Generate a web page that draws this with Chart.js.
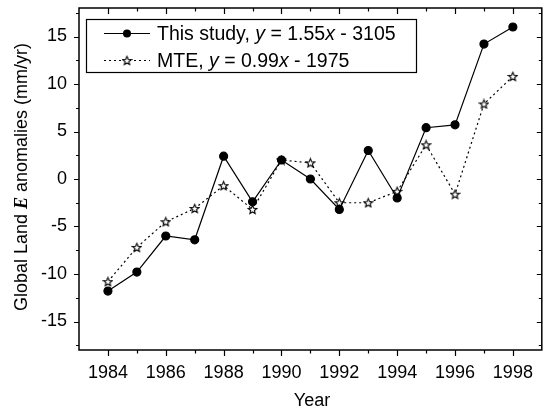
<!DOCTYPE html>
<html>
<head>
<meta charset="utf-8">
<script src="https://cdn.jsdelivr.net/npm/chart.js@4.4.0/dist/chart.umd.min.js"></script>
<style>
    html, body { margin: 0; padding: 0; background: #fff; }
</style>
</head>
<body>
<canvas id="et-graph" width="547" height="414"></canvas>
<script>
const years = [1984, 1985, 1986, 1987, 1988, 1989, 1990, 1991, 1992, 1993, 1994, 1995, 1996, 1997, 1998];
const thisStudy = [-11.8, -9.8, -6.0, -6.4, 2.4, -2.4, 2.0, 0.0, -3.2, 3.0, -2.0, 5.4, 5.7, 14.2, 16.0];
const mte = [-10.8, -7.2, -4.5, -3.1, -0.7, -3.2, 2.0, 1.7, -2.5, -2.5, -1.3, 3.6, -1.6, 7.9, 10.8];
const xTicks = [1984, 1986, 1988, 1990, 1992, 1994, 1996, 1998];
const xMinor = [1985, 1987, 1989, 1991, 1993, 1995, 1997];
const yTicks = [-15, -10, -5, 0, 5, 10, 15];
const yMinor = [-17.5, -12.5, -7.5, -2.5, 2.5, 7.5, 12.5, 17.5];

(function() {
    const SANS = '"Liberation Sans", Arial, sans-serif';

    // open five-pointed star used as the MTE marker
    function makeStar(size) {
        const c = document.createElement('canvas');
        c.width = size;
        c.height = size;
        const g = c.getContext('2d');
        const cx = size / 2, cy = size / 2 + 0.4;
        const ro = size / 2 - 1, ri = ro * 0.45;
        g.beginPath();
        for (let i = 0; i < 10; i++) {
            const r = i % 2 === 0 ? ro : ri;
            const a = -Math.PI / 2 + i * Math.PI / 5;
            const px = cx + r * Math.cos(a), py = cy + r * Math.sin(a);
            if (i === 0) g.moveTo(px, py); else g.lineTo(px, py);
        }
        g.closePath();
        g.fillStyle = '#fff';
        g.fill();
        g.strokeStyle = '#000';
        g.lineWidth = 1.1;
        g.stroke();
        return c;
    }
    const star = makeStar(11);

    function richText(ctx, parts, x, y) {
        let cx = x;
        parts.forEach(p => {
            ctx.font = p.font;
            ctx.fillText(p.t, cx, y);
            cx += ctx.measureText(p.t).width;
        });
    }
    function richWidth(ctx, parts) {
        let w = 0;
        parts.forEach(p => { ctx.font = p.font; w += ctx.measureText(p.t).width; });
        return w;
    }

    const decor = {
        id: 'decor',
        afterDraw(chart) {
            const ctx = chart.ctx;
            const a = chart.chartArea;
            const xs = chart.scales.x, ys = chart.scales.y;
            ctx.save();
            ctx.strokeStyle = '#000';
            ctx.fillStyle = '#000';

            // frame
            ctx.lineWidth = 1.5;
            ctx.strokeRect(a.left, a.top, a.right - a.left, a.bottom - a.top);

            // ticks: out on bottom/left, in on top/right
            ctx.lineWidth = 1.2;
            ctx.beginPath();
            const xt = (v, len) => {
                const p = Math.round(xs.getPixelForValue(v)) + 0.5;
                ctx.moveTo(p, a.bottom); ctx.lineTo(p, a.bottom + len);
                ctx.moveTo(p, a.top); ctx.lineTo(p, a.top + len);
            };
            const yt = (v, len) => {
                const p = Math.round(ys.getPixelForValue(v)) + 0.5;
                ctx.moveTo(a.left, p); ctx.lineTo(a.left - len, p);
                ctx.moveTo(a.right, p); ctx.lineTo(a.right - len, p);
            };
            xTicks.forEach(v => xt(v, 6));
            xMinor.forEach(v => xt(v, 3.5));
            yTicks.forEach(v => yt(v, 5));
            yMinor.forEach(v => yt(v, 3));
            ctx.stroke();

            // legend box
            const lx = 86, ly = 19, lw = 330, lh = 53;
            ctx.lineWidth = 1.2;
            ctx.strokeRect(lx + 0.5, ly + 0.5, lw, lh);
            const r1 = 33.5, r2 = 60.5;
            ctx.lineWidth = 1.2;
            ctx.beginPath();
            ctx.moveTo(104, r1); ctx.lineTo(150, r1);
            ctx.stroke();
            ctx.beginPath();
            ctx.arc(127, r1, 4, 0, Math.PI * 2);
            ctx.fill();
            ctx.setLineDash([2, 3]);
            ctx.beginPath();
            ctx.moveTo(104, r2); ctx.lineTo(150, r2);
            ctx.stroke();
            ctx.setLineDash([]);
            ctx.drawImage(star, 127 - 5.5, r2 - 5.5);

            const f = '19.5px ' + SANS, fi = 'italic 19.5px ' + SANS;
            ctx.textBaseline = 'middle';
            ctx.textAlign = 'left';
            richText(ctx, [
                { t: 'This study, ', font: f }, { t: 'y', font: fi },
                { t: ' = 1.55', font: f }, { t: 'x', font: fi }, { t: ' - 3105', font: f }
            ], 157, r1 + 1);
            richText(ctx, [
                { t: 'MTE, ', font: f }, { t: 'y', font: fi },
                { t: ' = 0.99', font: f }, { t: 'x', font: fi }, { t: ' - 1975', font: f }
            ], 157, r2 + 1);

            // axis titles
            ctx.font = '18px ' + SANS;
            ctx.textAlign = 'center';
            ctx.fillText('Year', 312, 401);

            const yParts = [
                { t: 'Global Land ', font: '18px ' + SANS },
                { t: 'E', font: 'bold italic 18px "Liberation Serif", serif' },
                { t: ' anomalies (mm/yr)', font: '18px ' + SANS }
            ];
            ctx.translate(22, 177);
            ctx.rotate(-Math.PI / 2);
            ctx.textAlign = 'left';
            richText(ctx, yParts, -richWidth(ctx, yParts) / 2, 0);
            ctx.restore();
        }
    };

    const ctx = document.getElementById('et-graph').getContext('2d');
    const myChart = new Chart(ctx, {
        type: 'line',
        data: {
            datasets: [{
                label: 'This study',
                data: years.map((x, i) => ({ x: x, y: thisStudy[i] })),
                borderColor: '#000',
                borderWidth: 1.2,
                pointRadius: 4,
                pointBackgroundColor: '#000',
                pointBorderColor: '#000',
                tension: 0
            }, {
                label: 'MTE',
                data: years.map((x, i) => ({ x: x, y: mte[i] })),
                borderColor: '#000',
                borderWidth: 1.2,
                borderDash: [2, 3],
                pointStyle: star,
                tension: 0
            }]
        },
        options: {
            responsive: false,
            animation: false,
            layout: { padding: { left: 0, top: 8, right: 3, bottom: 0 } },
            scales: {
                x: {
                    type: 'linear',
                    min: 1983,
                    max: 1999,
                    afterBuildTicks: s => { s.ticks = xTicks.map(v => ({ value: v })); },
                    afterFit: s => { s.height = 64; s.paddingLeft = 0; s.paddingRight = 0; },
                    grid: { display: false, drawTicks: false },
                    border: { display: false },
                    ticks: {
                        color: '#000',
                        padding: 12,
                        font: { family: SANS, size: 18 },
                        callback: v => String(v)
                    }
                },
                y: {
                    min: -18,
                    max: 18,
                    afterBuildTicks: s => { s.ticks = yTicks.map(v => ({ value: v })); },
                    afterFit: s => { s.width = 79; s.paddingTop = 0; s.paddingBottom = 0; },
                    grid: { display: false, drawTicks: false },
                    border: { display: false },
                    ticks: {
                        color: '#000',
                        padding: 12,
                        font: { family: SANS, size: 18 }
                    }
                }
            },
            plugins: {
                legend: { display: false },
                tooltip: { enabled: false }
            }
        },
        plugins: [decor]
    });
})();
</script>
</body>
</html>
